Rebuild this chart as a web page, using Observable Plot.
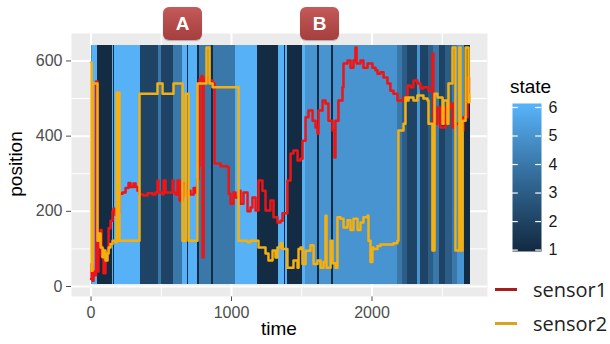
<!DOCTYPE html>
<html><head><meta charset="utf-8">
<script src="https://cdn.jsdelivr.net/npm/d3@7"></script>
<script src="https://cdn.jsdelivr.net/npm/@observablehq/plot@0.6"></script>
<style>
body{margin:0;background:#fff;}
#wrap{position:relative;width:610px;height:344px;background:#fff;overflow:hidden;font-family:'Liberation Sans',Arial,sans-serif;}
#wrap > div{position:absolute;}
.tag{width:39px;height:33px;border-radius:6px;background:linear-gradient(#c45a5a,#a53e3e);color:#fff;font:bold 19px 'Liberation Sans',Arial,sans-serif;display:flex;align-items:center;justify-content:center;box-shadow:0 1px 1px rgba(0,0,0,.25);}
</style></head>
<body><div id="wrap"></div>
<script>
// ---- data ----
const xTicks = [0, 1000, 2000];
const xMinor = [500, 1500, 2500];
const yTicks = [0, 200, 400, 600];
const yMinor = [100, 300, 500];
const stateTicks = [1, 2, 3, 4, 5, 6];
const seriesNames = ["sensor1", "sensor2"];

const bandStart = [0, 11, 46, 153, 163, 168, 350, 480, 500, 587,
  651, 687, 692, 760, 772, 858, 870, 1028, 1185, 1334,
  1377, 1384, 1398, 1505, 1527, 1612, 1626, 1712, 1726, 2181,
  2217, 2253, 2323, 2345, 2402, 2437, 2480, 2523, 2573, 2610, 2660];
const bandEnd = [11, 46, 153, 163, 168, 350, 480, 500, 587, 651,
  687, 692, 760, 772, 858, 870, 1028, 1185, 1334, 1377,
  1384, 1398, 1505, 1527, 1612, 1626, 1712, 1726, 2181, 2217,
  2253, 2323, 2345, 2402, 2437, 2480, 2523, 2573, 2610, 2660, 2700];
const bandState = [5, 6, 1, 6, 1, 6, 2, 4, 2, 4,
  6, 1, 6, 1, 4, 1, 4, 6, 1, 6,
  1, 6, 1, 6, 5, 1, 5, 1, 5, 4,
  3, 2, 5, 2, 3, 4, 2, 3, 4, 5, 1];
const bandLow = 4, bandHigh = 641;

const s1Time = [0, 4, 11, 18, 32, 36, 43, 46, 53, 68,
  75, 82, 89, 103, 117, 125, 139, 153, 160, 174,
  189, 203, 224, 246, 267, 281, 302, 317, 331, 345,
  374, 402, 438, 459, 473, 480, 509, 516, 530, 566,
  580, 587, 601, 616, 630, 651, 673, 687, 708, 730,
  744, 758, 765, 772, 786, 794, 801, 815, 836, 865,
  879, 922, 971, 980, 993, 1014, 1028, 1050, 1064, 1085,
  1114, 1135, 1149, 1171, 1192, 1220, 1242, 1277, 1299, 1327,
  1349, 1363, 1398, 1420, 1441, 1470, 1491, 1505, 1527, 1548,
  1577, 1598, 1612, 1619, 1648, 1669, 1690, 1719, 1733, 1740,
  1761, 1790, 1797, 1826, 1847, 1868, 1882, 1890, 1918, 1939,
  1968, 2003, 2025, 2039, 2060, 2082, 2110, 2131, 2153, 2181,
  2224, 2253, 2274, 2295, 2323, 2345, 2366, 2402, 2430, 2437,
  2466, 2487, 2523, 2558, 2573, 2594, 2630, 2651, 2680, 2690];
const s1Pos = [20, 60, 15, 40, 30, 545, 545, 40, 120, 150,
  80, 100, 35, 70, 90, 155, 175, 200, 207, 190,
  195, 247, 250, 262, 275, 265, 274, 265, 255, 245,
  242, 248, 245, 250, 282, 250, 245, 282, 250, 250,
  282, 250, 245, 282, 229, 274, 240, 255, 245, 262,
  250, 285, 320, 550, 560, 77, 545, 556, 548, 540,
  327, 320, 317, 247, 220, 250, 237, 255, 220, 250,
  200, 210, 237, 202, 282, 255, 202, 229, 184, 170,
  175, 195, 282, 354, 362, 335, 340, 388, 450, 468,
  441, 423, 407, 468, 495, 487, 441, 415, 343, 441,
  495, 530, 593, 601, 582, 601, 636, 593, 601, 582,
  593, 582, 575, 566, 570, 556, 540, 521, 513, 495,
  503, 535, 530, 548, 540, 527, 530, 521, 620, 433,
  476, 423, 476, 487, 423, 433, 415, 450, 556, 513];

const s2Time = [0, 4, 11, 46, 53, 68, 82, 89, 103, 117,
  125, 139, 153, 174, 182, 189, 196, 203, 345, 473,
  509, 587, 651, 673, 694, 758, 822, 843, 865, 1050,
  1114, 1135, 1192, 1242, 1263, 1292, 1313, 1327, 1349, 1363,
  1398, 1441, 1470, 1477, 1491, 1505, 1527, 1562, 1584, 1612,
  1634, 1655, 1669, 1676, 1705, 1719, 1740, 1754, 1776, 1797,
  1826, 1847, 1868, 1897, 1918, 1939, 1968, 1975, 1989, 2003,
  2011, 2039, 2060, 2153, 2181, 2188, 2224, 2238, 2253, 2260,
  2295, 2323, 2366, 2395, 2402, 2430, 2445, 2466, 2502, 2509,
  2537, 2544, 2573, 2594, 2622, 2630, 2644, 2666, 2687, 2694];
const s2Pos = [596, 42, 540, 122, 141, 104, 78, 96, 69, 88,
  104, 113, 122, 118, 516, 122, 516, 122, 513, 540,
  513, 540, 122, 513, 122, 540, 636, 540, 530, 122,
  118, 122, 104, 88, 69, 96, 77, 104, 115, 100,
  50, 69, 50, 100, 104, 60, 95, 110, 60, 69,
  50, 65, 188, 50, 122, 62, 50, 184, 180, 157,
  176, 150, 180, 150, 170, 184, 188, 122, 65, 104,
  100, 108, 112, 115, 122, 415, 433, 503, 495, 503,
  495, 508, 500, 495, 433, 96, 513, 503, 433, 495,
  433, 540, 636, 96, 636, 96, 441, 636, 490, 510];

// ---- build tables ----
const bands = bandState.map((s, i) => ({x1: bandStart[i], x2: bandEnd[i], state: s}));
const sensor1 = s1Time.map((t, i) => ({time: t, position: s1Pos[i]}));
const sensor2 = s2Time.map((t, i) => ({time: t, position: s2Pos[i]}));

const lineColors = ["#f01414", "#f5b00f"];
const legendColors = ["#a71d1d", "#d9a21f"];
const colorScale = {type: "linear", domain: [1, 6], range: ["#132B43", "#56B1F7"], interpolate: "lab"};

const wrap = document.getElementById("wrap");

const main = Plot.plot({
  width: 610, height: 344,
  marginLeft: 71, marginRight: 123, marginTop: 33, marginBottom: 48,
  style: {fontFamily: "'Liberation Sans', Arial, sans-serif", fontSize: "16px", color: "#4d4d4d", background: "transparent"},
  x: {domain: [-139, 2822], ticks: xTicks, tickFormat: "d", tickSize: 5, tickPadding: 5, label: null},
  y: {domain: [-26.6, 673], ticks: yTicks, tickFormat: "d", tickSize: 5, tickPadding: 4, label: null},
  color: colorScale,
  marks: [
    Plot.frame({fill: "#EBEBEB", stroke: "none"}),
    Plot.ruleX(xMinor, {stroke: "#fff", strokeWidth: 1}),
    Plot.ruleY(yMinor, {stroke: "#fff", strokeWidth: 1}),
    Plot.ruleX(xTicks, {stroke: "#fff", strokeWidth: 2}),
    Plot.ruleY(yTicks, {stroke: "#fff", strokeWidth: 2}),
    Plot.rect(bands, {x1: "x1", x2: "x2", y1: bandLow, y2: bandHigh, fill: "state", shapeRendering: "crispEdges"}),
    Plot.line(sensor1, {x: "time", y: "position", stroke: lineColors[0], strokeWidth: 2.5, curve: "step-after"}),
    Plot.line(sensor2, {x: "time", y: "position", stroke: lineColors[1], strokeWidth: 2.5, curve: "step-after"})
  ]
});
main.style.position = "absolute"; main.style.left = "0px"; main.style.top = "0px";
wrap.appendChild(main);

// colour bar
const bar = Plot.plot({
  width: 62, height: 160,
  marginLeft: 7, marginRight: 26, marginTop: 6, marginBottom: 6,
  style: {fontFamily: "'Liberation Sans', Arial, sans-serif", fontSize: "16px", color: "#1a1a1a", background: "transparent"},
  x: {domain: [0, 1], axis: null},
  y: {domain: [0.95, 6.14], axis: "right", ticks: stateTicks, tickFormat: "d", tickSize: 0, tickPadding: 7, label: null},
  color: {...colorScale, clamp: true},
  marks: [
    Plot.raster({x1: 0, x2: 1, y1: 0.95, y2: 6.14, width: 1, height: 200, fill: (x, y) => y, imageRendering: "auto"}),
    Plot.ruleY(stateTicks, {x1: 0, x2: 0.2, stroke: "#fff", strokeWidth: 1.2}),
    Plot.ruleY(stateTicks, {x1: 0.8, x2: 1, stroke: "#fff", strokeWidth: 1.2})
  ]
});
const barDiv = document.createElement("div");
barDiv.style.left = "505px"; barDiv.style.top = "97px";
barDiv.appendChild(bar);
wrap.appendChild(barDiv);

function addDiv(html, css) {
  const d = document.createElement("div");
  d.innerHTML = html;
  Object.assign(d.style, css);
  wrap.appendChild(d);
  return d;
}
addDiv("state", {left: "510px", top: "76px", fontSize: "19px", color: "#000"});
addDiv("time", {left: "261px", top: "318px", fontSize: "19px", color: "#000"});
addDiv("position", {left: "-22px", top: "153px", fontSize: "19px", color: "#000", transform: "rotate(-90deg)", transformOrigin: "50% 50%", width: "76px", textAlign: "center"});

// sensor legend
seriesNames.forEach((name, i) => {
  const top = 276 + i * 34;
  addDiv("", {left: "495px", top: (top + 12) + "px", width: "22px", height: "3px", background: legendColors[i]});
  addDiv(name, {left: "533px", top: top + "px", fontSize: "20px", color: "#222", fontFamily: "'Open Sans', sans-serif"});
});

// annotation tags
const tagA = addDiv("A", {left: "163px", top: "7px"}); tagA.className = "tag";
const tagB = addDiv("B", {left: "300px", top: "7px"}); tagB.className = "tag";
</script>
</body></html>
